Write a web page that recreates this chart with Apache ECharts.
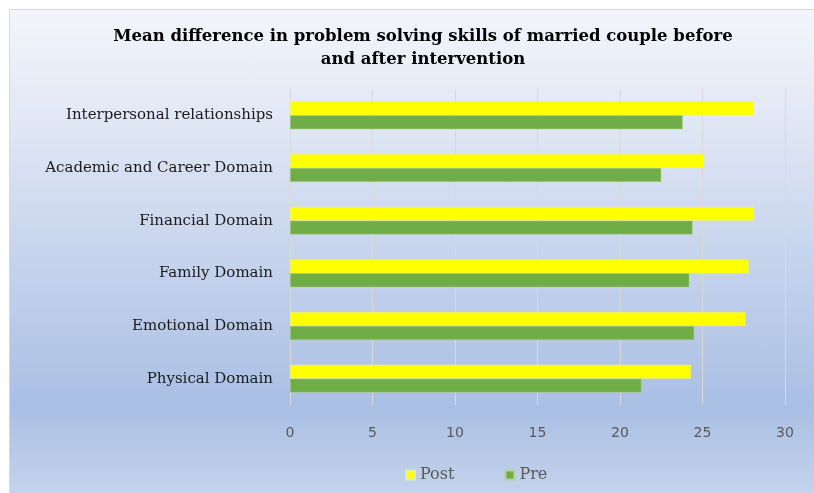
<!DOCTYPE html>
<html>
<head>
<meta charset="utf-8">
<script src="https://cdn.jsdelivr.net/npm/echarts@6/dist/echarts.min.js"></script>
<style>
  html, body { margin: 0; padding: 0; background: #fff; }
  #wrap { position: relative; width: 814px; height: 493px; }
  #bg {
    position: absolute; left: 9px; top: 9px; right: 0; bottom: 0;
    border-left: 1px solid #d9d9d9; border-top: 1px solid #d9d9d9;
    background: linear-gradient(to bottom, #f3f5fb 0%, #dfe6f4 25%, #c3d1ec 55%, #a9bfe4 82%, #c4d3ec 100%);
  }
  #chart { position: absolute; left: 0; top: 0; width: 814px; height: 493px; }
</style>
</head>
<body>
<div id="wrap">
  <div id="bg"></div>
  <div id="chart"></div>
</div>
<script>
// categories listed bottom to top
var categories = ['Physical Domain', 'Emotional Domain', 'Family Domain', 'Financial Domain', 'Academic and Career Domain', 'Interpersonal relationships'];
var postValues = [24.3, 27.6, 27.8, 28.1, 25.1, 28.1];
var preValues = [21.3, 24.5, 24.2, 24.4, 22.5, 23.8];
var xTicks = [0, 5, 10, 15, 20, 25, 30];

var chart = echarts.init(document.getElementById('chart'), null, { renderer: 'canvas' });

var option = {
  backgroundColor: 'transparent',
  title: {
    text: 'Mean difference in problem solving skills of married couple before\nand after intervention',
    left: 418,
    textAlign: 'center',
    top: 20,
    textStyle: {
      fontFamily: 'DejaVu Serif',
      fontWeight: 'bold',
      fontSize: 16.5,
      color: '#000',
      lineHeight: 23
    }
  },
  legend: {
    data: ['Post', 'Pre'],
    top: 462,
    left: 400,
    itemWidth: 9,
    itemHeight: 9,
    itemGap: 50,
    icon: 'rect',
    textStyle: { fontFamily: 'DejaVu Serif', fontSize: 16, color: '#595959' }
  },
  grid: { left: 290, right: 29, top: 89, bottom: 88 },
  xAxis: {
    type: 'value',
    min: xTicks[0],
    max: xTicks[xTicks.length - 1],
    interval: 5,
    axisLine: { show: false },
    axisTick: { show: false },
    splitLine: { lineStyle: { color: '#d9d9d9', width: 1 } },
    axisLabel: { margin: 21, fontFamily: 'DejaVu Sans', fontSize: 14, color: '#595959' }
  },
  yAxis: {
    type: 'category',
    data: categories,
    axisLine: { lineStyle: { color: '#d9d9d9' } },
    axisTick: { show: false },
    axisLabel: { margin: 17, fontFamily: 'DejaVu Serif', fontSize: 15, color: '#1a1a1a' }
  },
  series: [
    {
      name: 'Post',
      type: 'bar',
      data: postValues,
      barGap: '0%',
      barCategoryGap: '47%',
      itemStyle: { color: '#ffff00', borderColor: '#e8ec9a', borderWidth: 0.5 }
    },
    {
      name: 'Pre',
      type: 'bar',
      data: preValues,
      itemStyle: { color: '#70ad47', borderColor: '#b5d19c', borderWidth: 0.5 }
    }
  ]
};

chart.setOption(option);
</script>
</body>
</html>
